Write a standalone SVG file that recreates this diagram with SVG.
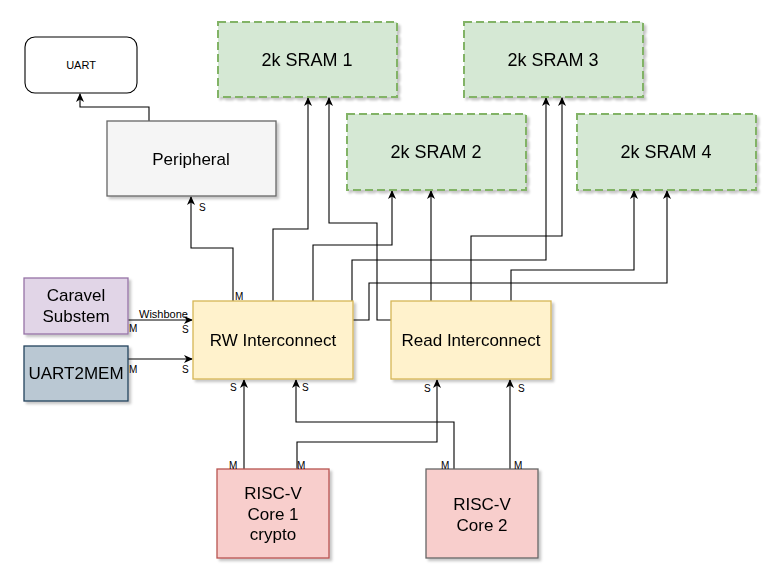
<svg xmlns="http://www.w3.org/2000/svg" width="778" height="581" viewBox="0 0 778 581">
<defs>
<filter id="sh" x="-10%" y="-10%" width="130%" height="130%">
<feDropShadow dx="2.5" dy="2.5" stdDeviation="0.8" flood-color="#000" flood-opacity="0.22"/>
</filter>
<marker id="arr" markerUnits="userSpaceOnUse" markerWidth="9" markerHeight="9" viewBox="0 0 9 9" refX="8" refY="4.5" orient="auto">
<path d="M0,0.5 L9,4.5 L0,8.5 L2.5,4.5 Z" fill="#000"/>
</marker>
</defs>
<style>
text{font-family:"Liberation Sans",Arial,sans-serif;fill:#000}
.c{text-anchor:middle;dominant-baseline:central}
.big{font-size:17px}
.sram{font-size:18px}
.lbl{font-size:10px}
.box{filter:url(#sh)}
.sr rect{fill:#d5e8d4;stroke:#82b366;stroke-width:2;stroke-dasharray:8 4}
.ic rect{fill:#fff2cc;stroke:#d6b656;stroke-width:1.3}
.core rect{fill:#f8cecc;stroke:#b85450;stroke-width:1.3}
#conn path{fill:none;stroke:#000;stroke-width:1.1;marker-end:url(#arr)}
</style>
<rect width="778" height="581" fill="#fff"/>

<g id="conn">
<path d="M149,121 V107 H80 V94"/>
<path d="M128,320 H192"/>
<path d="M128,359 H192"/>
<path d="M233,301 V248 H191 V197"/>
<path d="M273,301 V229 H308 V98"/>
<path d="M391,320 H377 V223 H329 V98"/>
<path d="M313,301 V245 H392 V191"/>
<path d="M431,301 V191"/>
<path d="M352,301 V260 H546 V98"/>
<path d="M471,301 V236 H562 V98"/>
<path d="M511,301 V270 H634 V191"/>
<path d="M353,320 H369 V283 H667 V191"/>
<path d="M244,469 V380"/>
<path d="M297,469 V442 H437 V380"/>
<path d="M454,469 V422 H296 V380"/>
<path d="M510,469 V380"/>
</g>

<g id="uart">
<rect x="25" y="37" width="112" height="56" rx="10" fill="#fff" stroke="#000" stroke-width="1.1"/>
<text class="c" x="81" y="65" font-size="11">UART</text>
</g>
<g id="peripheral" class="box">
<rect x="107" y="121" width="169" height="75" fill="#f5f5f5" stroke="#666" stroke-width="1.3"/>
<text class="c big" x="191" y="159">Peripheral</text>
</g>
<g id="sram1" class="box sr">
<rect x="218" y="22" width="179" height="75"/>
<text class="c sram" x="307" y="60">2k SRAM 1</text>
</g>
<g id="sram3" class="box sr">
<rect x="464" y="22" width="179" height="75"/>
<text class="c sram" x="553" y="60">2k SRAM 3</text>
</g>
<g id="sram2" class="box sr">
<rect x="347" y="114" width="179" height="76"/>
<text class="c sram" x="436" y="152">2k SRAM 2</text>
</g>
<g id="sram4" class="box sr">
<rect x="577" y="114" width="179" height="76"/>
<text class="c sram" x="666" y="152">2k SRAM 4</text>
</g>
<g id="caravel" class="box">
<rect x="24" y="278" width="104" height="56" fill="#e1d5e7" stroke="#9673a6" stroke-width="1.3"/>
<text class="c big" x="76" y="295">Caravel</text>
<text class="c big" x="76" y="316">Substem</text>
</g>
<g id="uart2mem" class="box">
<rect x="24" y="346" width="104" height="55" fill="#bac8d3" stroke="#23445d" stroke-width="1.3"/>
<text class="c big" x="76" y="373">UART2MEM</text>
</g>
<g id="rw" class="box ic">
<rect x="193" y="301" width="160" height="78"/>
<text class="c big" x="273" y="340">RW Interconnect</text>
</g>
<g id="read" class="box ic">
<rect x="391" y="301" width="160" height="78"/>
<text class="c big" x="471" y="340">Read Interconnect</text>
</g>
<g id="core1" class="box core">
<rect x="217" y="469" width="112" height="89"/>
<text class="c big" x="273" y="493">RISC-V</text>
<text class="c big" x="273" y="514">Core 1</text>
<text class="c big" x="273" y="534">crypto</text>
</g>
<g id="core2" class="box core">
<rect x="426" y="469" width="112" height="89" style="stroke:#666"/>
<text class="c big" x="482" y="504">RISC-V</text>
<text class="c big" x="482" y="525">Core 2</text>
</g>

<g id="labels">
<text x="139" y="318" font-size="11">Wishbone</text>
<text class="lbl" x="129" y="332">M</text>
<text class="lbl" x="182" y="333">S</text>
<text class="lbl" x="129" y="373">M</text>
<text class="lbl" x="182" y="373">S</text>
<text class="lbl" x="235" y="300">M</text>
<text class="lbl" x="199" y="211">S</text>
<text class="lbl" x="230" y="391">S</text>
<text class="lbl" x="302" y="391">S</text>
<text class="lbl" x="424" y="392">S</text>
<text class="lbl" x="518" y="392">S</text>
<text class="lbl" x="229" y="469">M</text>
<text class="lbl" x="297" y="469">M</text>
<text class="lbl" x="441" y="469">M</text>
<text class="lbl" x="514" y="469">M</text>
</g>
</svg>
